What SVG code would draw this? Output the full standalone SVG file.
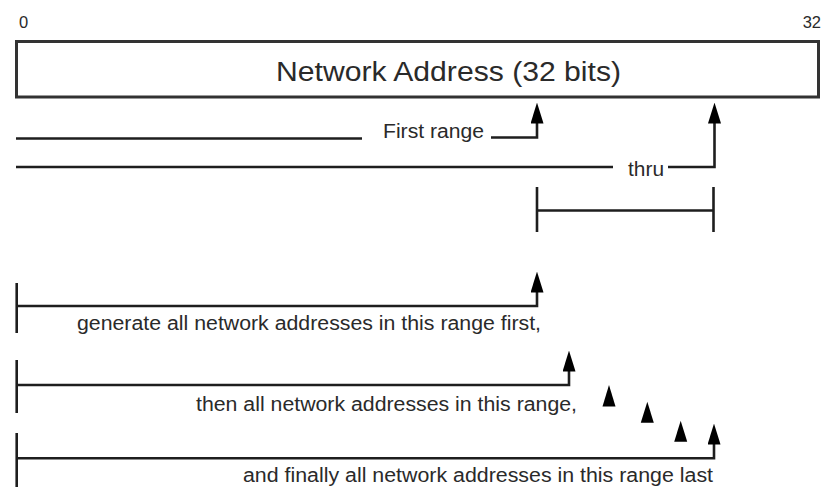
<svg xmlns="http://www.w3.org/2000/svg" width="831" height="489" viewBox="0 0 831 489">
<style>
.txt{font-family:"Liberation Sans",Arial,sans-serif;fill:#2a2a2a}
.lbl{font-size:19.5px}
.ln{fill:none;stroke:#1e1e1e;stroke-width:2.6}
.box{fill:#fff;stroke:#333;stroke-width:3}
.head{fill:#000}
</style>
<defs>
<marker id="arr" markerUnits="userSpaceOnUse" viewBox="0 0 21 13" refX="0.5" refY="6.5" markerWidth="21" markerHeight="13" orient="auto">
<path d="M0,0 L21,6.5 L0,13 z" fill="#000"/>
</marker>
</defs>
<rect width="831" height="489" fill="#fff"/>
<g id="scale-0"><text class="txt" x="19" y="28" font-size="16.5">0</text></g>
<g id="scale-32"><text class="txt" x="821" y="28" font-size="16.5" text-anchor="end">32</text></g>
<g id="address-box">
<rect class="box" x="16.5" y="41.5" width="802" height="55.5"/>
<text class="txt" x="276" y="81" font-size="27.5" textLength="345" lengthAdjust="spacingAndGlyphs">Network Address (32 bits)</text>
</g>
<g id="first-range"><text class="txt lbl" x="383" y="138" textLength="101" lengthAdjust="spacingAndGlyphs">First range</text></g>
<g id="thru"><text class="txt lbl" x="628" y="176" textLength="36" lengthAdjust="spacingAndGlyphs">thru</text></g>
<g id="range-first"><text class="txt lbl" x="77" y="330" textLength="464" lengthAdjust="spacingAndGlyphs">generate all network addresses in this range first,</text></g>
<g id="range-then"><text class="txt lbl" x="196" y="411" textLength="381" lengthAdjust="spacingAndGlyphs">then all network addresses in this range,</text></g>
<g id="range-last"><text class="txt lbl" x="243" y="482" textLength="470" lengthAdjust="spacingAndGlyphs">and finally all network addresses in this range last</text></g>
<g id="progress-marks">
<polygon class="head" points="609,385 602.5,406.5 615.5,406.5"/>
<polygon class="head" points="647.3,401.7 640.8,422.7 653.8,422.7"/>
<polygon class="head" points="680.7,420.7 674.2,441.7 687.2,441.7"/>
</g>
<g id="connectors">
<path class="ln" d="M16 138.5 H362"/>
<path class="ln" d="M491 137.5 H537 V123" marker-end="url(#arr)"/>
<path class="ln" d="M16 167 H613"/>
<path class="ln" d="M668 167 H714.5 V123" marker-end="url(#arr)"/>
<path class="ln" d="M537 187 V232 M713.5 187 V232 M537 210.5 H713.5"/>
<path class="ln" d="M16.7 283 V333"/>
<path class="ln" d="M16.7 306 H537 V292" marker-end="url(#arr)"/>
<path class="ln" d="M16.7 360 V413"/>
<path class="ln" d="M16.7 385 H569 V371" marker-end="url(#arr)"/>
<path class="ln" d="M16.7 433 V487"/>
<path class="ln" d="M16.7 458.3 H714 V444" marker-end="url(#arr)"/>
</g>
</svg>
